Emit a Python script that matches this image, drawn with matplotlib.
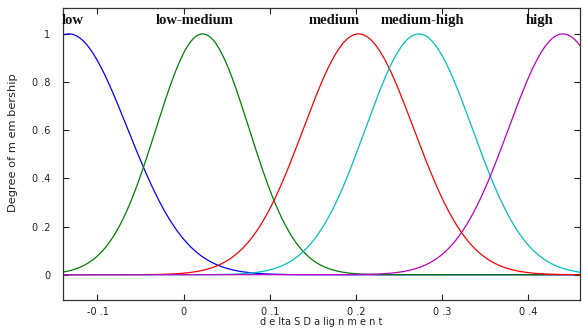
import numpy as np
import matplotlib
matplotlib.use("Agg")
import matplotlib.pyplot as plt

# Membership function parameters (Gaussian MFs): names, centres, widths
mf_names = ["low", "low-medium", "medium", "medium-high", "high"]
mf_centers = [-0.133, 0.022, 0.203, 0.273, 0.440]
mf_sigmas = [0.068, 0.054, 0.064, 0.062, 0.063]
mf_colors = ["#0000ff", "#008000", "#ff0000", "#00bfbf", "#bf00bf"]

# label anchor positions (data x) as placed in the figure
label_x = [-0.1415, 0.013, 0.175, 0.277, 0.413]
label_ha = ["left", "center", "center", "center", "center"]

x_ticks = [-0.1, 0.0, 0.1, 0.2, 0.3, 0.4]
x_tick_labels = ["-0 .1", "0", "0 .1", "0 .2", "0 .3", "0 .4"]
y_ticks = [0, 0.2, 0.4, 0.6, 0.8, 1.0]
y_tick_labels = ["0", "0 .2", "0 .4", "0 .6", "0 .8", "1"]

x_min, x_max = -0.14, 0.46

fig = plt.figure(figsize=(5.83, 3.29), dpi=100)
ax = fig.add_axes([0.108, 0.088, 0.887, 0.888])

xs = np.linspace(x_min, x_max, 301)
for c, s, col in zip(mf_centers, mf_sigmas, mf_colors):
    ys = np.exp(-((xs - c) ** 2) / (2 * s ** 2))
    ax.plot(xs, ys, color=col, lw=0.9)

for name, lx, ha in zip(mf_names, label_x, label_ha):
    ax.text(lx, 1.055, name, ha=ha, va="center", fontsize=10.5,
            fontweight="bold", family="Liberation Serif", color="#111111")

ax.set_xlim(x_min, x_max)
ax.set_ylim(-0.105, 1.108)
ax.set_xticks(x_ticks)
ax.set_xticklabels(x_tick_labels)
ax.set_yticks(y_ticks)
ax.set_yticklabels(y_tick_labels)
ax.tick_params(direction="in", length=4, width=0.8, top=True, right=True,
               labelsize=7, colors="#222222")
ax.tick_params(axis="y", pad=9)
ax.tick_params(axis="x", pad=5)
for sp in ax.spines.values():
    sp.set_linewidth(0.9)
    sp.set_color("#333333")

ax.set_xlabel("d e lta S D a lig n m e n t", fontsize=7, color="#222222")
ax.xaxis.set_label_coords(0.5, -0.058)
ax.set_ylabel("Degree of m em bership", fontsize=8.2, color="#222222")
ax.yaxis.set_label_coords(-0.087, 0.54)

fig.savefig("out.png", dpi=100)
